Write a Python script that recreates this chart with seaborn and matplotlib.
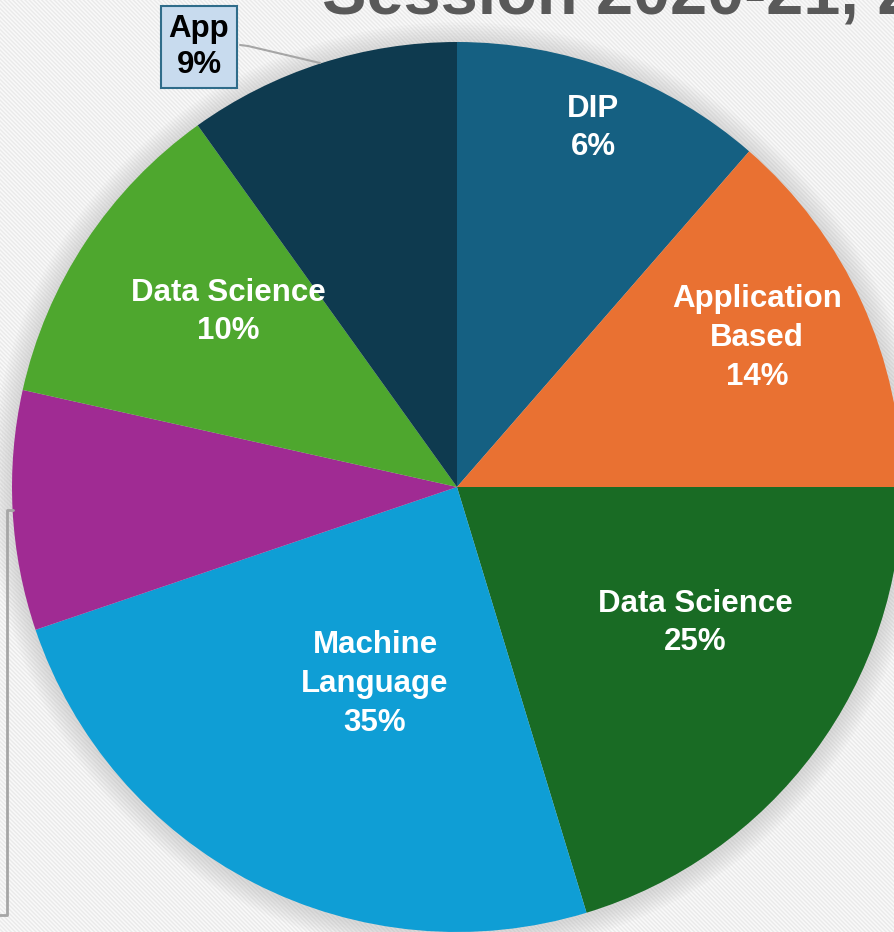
import numpy as np
import matplotlib
matplotlib.use("Agg")
import matplotlib.pyplot as plt
from matplotlib.patches import Rectangle, Circle
import seaborn as sns

## Slice data (clockwise from 12 o'clock)
topics = ["DIP", "Application\nBased", "Data Science", "Machine\nLanguage", "", "Data Science", "App"]
shares = [11.4, 13.6, 20.3, 24.5, 8.7, 11.6, 9.9]
label_pct = ["6%", "14%", "25%", "35%", "", "10%", "9%"]
title_text = "Session 2020-21, 2021-22"

palette = sns.color_palette(["#156082", "#E97132", "#196B24", "#0F9ED5",
                             "#A02B93", "#4EA72E", "#0E3A4F"])

sns.set_theme(style="white")
plt.rcParams['font.family'] = ['Liberation Sans', 'DejaVu Sans']
plt.rcParams['hatch.linewidth'] = 1.0
plt.rcParams['hatch.color'] = "#eaeaea"

W, H = 894, 932
cx, cy, R = 457, 487, 445

def px(x, y):
    # pixel position -> data coords (pie radius = 1)
    return (x - cx) / R, (cy - y) / R

fig = plt.figure(figsize=(W / 100, H / 100), dpi=100)
fig.patch.set_facecolor("#f8f8f8")
ax = fig.add_axes([0, 0, 1, 1])

wedges, _ = ax.pie(shares, colors=palette, startangle=90, counterclock=False,
                   radius=1.0, wedgeprops=dict(linewidth=0))
for w in wedges:
    w.set_zorder(2)

# pie() resets the limits, so set them afterwards
ax.set_xlim(-cx / R, (W - cx) / R)
ax.set_ylim(-(H - cy) / R, cy / R)
ax.set_aspect("equal")
ax.axis("off")

## striped background
ax.add_patch(Rectangle((-3, -3), 6, 6, facecolor="#f9f9f9", hatch="\\" * 8,
                       edgecolor="#eaeaea", linewidth=0, zorder=0))

## soft shadow round the pie
for k in range(8):
    ax.add_patch(Circle((0.0, -0.004), 1.0 + 0.006 * (k + 1), color="#a8a8a8",
                        alpha=0.05, linewidth=0, zorder=1))

## in-slice labels (label centres in picture pixels)
label_xy = [(593, 128), (757, 338), (695, 623), (375, 684), None, (228, 312), None]
for name, pct, xy in zip(topics, label_pct, label_xy):
    if xy is None:
        continue
    x, y = px(*xy)
    ax.text(x, y, f"{name}\n{pct}", ha="center", va="center", color="white",
            fontsize=22.5, fontweight="bold", linespacing=1.38, zorder=3)

## callout for the last slice
bx, by = px(199, 47)
ax.text(bx, by, f"{topics[6]}\n{label_pct[6]}", ha="center", va="center",
        color="black", fontsize=22.5, fontweight="bold", linespacing=1.3, zorder=5,
        bbox=dict(boxstyle="square,pad=0.25", facecolor="#c8dbee",
                  edgecolor="#2f6c8a", linewidth=1.5))
lx = [px(240, 45)[0], px(248, 46)[0], px(320, 63)[0]]
ly = [px(240, 45)[1], px(248, 46)[1], px(320, 63)[1]]
ax.plot(lx, ly, color="#a6a6a6", linewidth=1.5, zorder=4)

## leader line for the purple slice, label is outside the frame
p = [px(13, 510), px(7, 510), px(7, 915), px(-20, 915)]
ax.plot([q[0] for q in p], [q[1] for q in p], color="#a6a6a6", linewidth=2, zorder=4)

## title, cut off by the top edge
tx, ty = px(322, 14)
ax.text(tx, ty, title_text, ha="left", va="baseline", color="#595959",
        fontsize=48, fontweight="bold", zorder=5)

fig.savefig("out.png", dpi=100, facecolor=fig.get_facecolor())
